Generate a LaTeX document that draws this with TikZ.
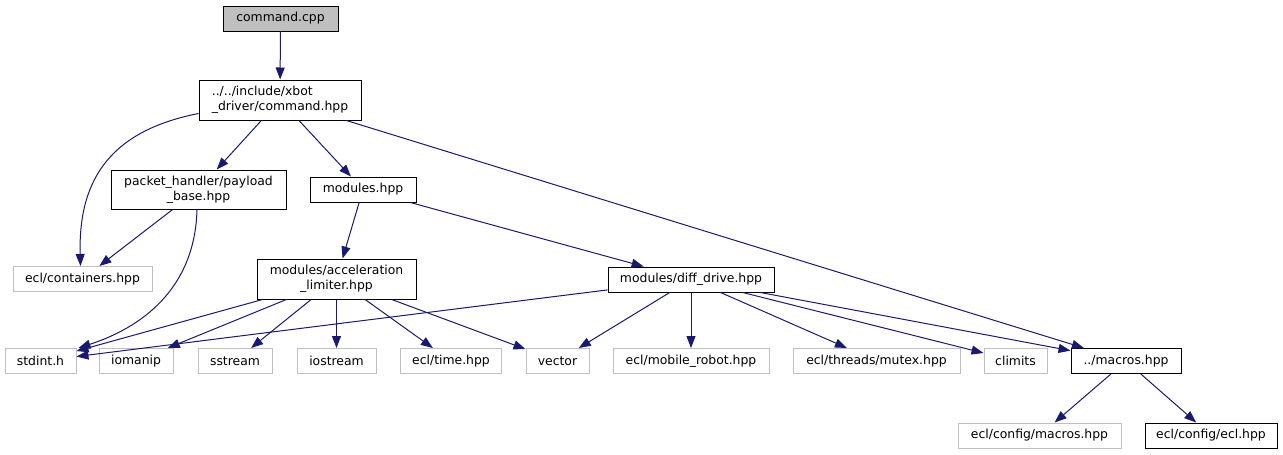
\documentclass[tikz,border=0pt]{standalone}
\usepackage{fontspec}
\setmainfont{DejaVu Sans}
\usepackage{tikz}
\usetikzlibrary{arrows.meta}
\definecolor{azul}{RGB}{25,25,112}
\definecolor{cinza}{RGB}{191,191,191}
\tikzset{%
  arquivo/.style={draw=black,line width=1pt,inner sep=2pt,minimum height=25pt,align=center,font=\fontsize{12.4}{15}\selectfont},
  arquivo duplo/.style={arquivo,minimum height=40pt},
  arquivo externo/.style={arquivo,draw=cinza},
  raiz/.style={arquivo,fill=cinza},
  inclui/.style={draw=azul,line width=1pt,arrows=-{Triangle[width=9pt,length=12pt]}}
}

\begin{document}
\begin{tikzpicture}[x=1pt,y=-1pt]
    \useasboundingbox (0,0) rectangle (1283,455);
    % arquivos do projeto
    \node[raiz,minimum width=115pt] (cpp) at (280.5,18.5) {command.cpp};
    \node[arquivo duplo,minimum width=162pt,align=left] (hpp) at (280,100) {../../include/xbot\\\_driver/command.hpp};
    \node[arquivo duplo,minimum width=175pt,minimum height=39pt] (payload) at (198.5,189.5) {packet\_handler/payload\\\_base.hpp};
    \node[arquivo,minimum width=106pt] (modules) at (363,189.5) {modules.hpp};
    \node[arquivo duplo,minimum width=159pt] (accel) at (336.5,279) {modules/acceleration\\\_limiter.hpp};
    \node[arquivo,minimum width=166pt] (diff) at (691,279.5) {modules/diff\_drive.hpp};
    \node[arquivo,minimum width=110pt] (macros) at (1126,361) {../macros.hpp};
    \node[arquivo,minimum width=132pt] (cfgecl) at (1211,435.5) {ecl/config/ecl.hpp};
    % arquivos externos
    \node[arquivo externo,minimum width=139pt] (containers) at (82.5,279) {ecl/containers.hpp};
    \node[arquivo externo,minimum width=71pt] (stdint) at (40.5,361) {stdint.h};
    \node[arquivo externo,minimum width=74pt] (iomanip) at (136,361) {iomanip};
    \node[arquivo externo,minimum width=74pt] (sstream) at (235,361) {sstream};
    \node[arquivo externo,minimum width=79pt] (iostream) at (336.5,361) {iostream};
    \node[arquivo externo,minimum width=101pt] (time) at (451,361) {ecl/time.hpp};
    \node[arquivo externo,minimum width=63pt] (vector) at (557.5,361) {vector};
    \node[arquivo externo,minimum width=156pt] (mobile) at (691,361) {ecl/mobile\_robot.hpp};
    \node[arquivo externo,minimum width=167pt] (mutex) at (876.5,361) {ecl/threads/mutex.hpp};
    \node[arquivo externo,minimum width=63pt] (climits) at (1015.5,361) {climits};
    \node[arquivo externo,minimum width=163pt] (cfgmacros) at (1039.5,435.5) {ecl/config/macros.hpp};
    % inclusoes
    \draw[inclui] (cpp) -- (hpp);
    \draw[inclui] ([yshift=7pt]hpp.south west) .. controls (115,130) and (78,175) .. ([xshift=-2pt]containers.north);
    \draw[inclui] (hpp) -- (payload);
    \draw[inclui] (hpp) -- (modules);
    \draw[inclui] (hpp) -- (macros);
    \draw[inclui] (payload) -- (containers);
    \draw[inclui] ([xshift=-1.5pt]payload.south) .. controls (195,290) and (140,328) .. ([xshift=38pt]stdint.north);
    \draw[inclui] (modules) -- (accel);
    \draw[inclui] (modules) -- (diff);
    \draw[inclui] (accel) -- (stdint);
    \draw[inclui] (accel) -- (iomanip);
    \draw[inclui] (accel) -- (sstream);
    \draw[inclui] (accel) -- (iostream);
    \draw[inclui] (accel) -- (time);
    \draw[inclui] (accel) -- (vector);
    \draw[inclui] (diff) -- (stdint);
    \draw[inclui] (diff) -- (vector);
    \draw[inclui] (diff) -- (mobile);
    \draw[inclui] (diff) -- (mutex);
    \draw[inclui] (diff) -- (climits);
    \draw[inclui] (diff) -- (macros);
    \draw[inclui] (macros) -- (cfgmacros);
    \draw[inclui] (macros) -- (cfgecl);
  \end{tikzpicture}
\end{document}
